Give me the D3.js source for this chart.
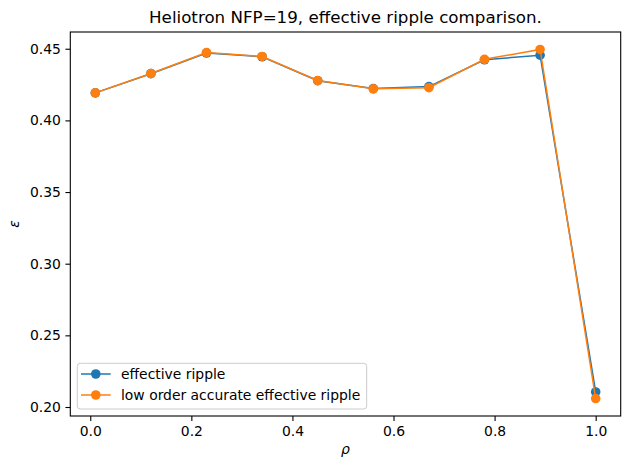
<!DOCTYPE html>
<html>
<head>
<meta charset="utf-8">
<script src="https://cdn.jsdelivr.net/npm/d3@7"></script>
<style>
  body { margin: 0; background: #fff; }
  svg text { font-family: "DejaVu Sans", sans-serif; fill: #000; }
</style>
</head>
<body>
<script>
// data
const rho = [0.01, 0.12, 0.23, 0.34, 0.45, 0.56, 0.67, 0.78, 0.89, 1.0];
const effRipple = [0.4192, 0.4326, 0.4470, 0.4444, 0.4277, 0.4222, 0.4236, 0.4423, 0.4455, 0.2105];
const lowOrderRipple = [0.4192, 0.4327, 0.4473, 0.4446, 0.4278, 0.4220, 0.4228, 0.4426, 0.4495, 0.2059];
const xTicks = [0.0, 0.2, 0.4, 0.6, 0.8, 1.0];
const yTicks = [0.20, 0.25, 0.30, 0.35, 0.40, 0.45];
const seriesNames = ['effective ripple', 'low order accurate effective ripple'];
const colors = ['#1f77b4', '#ff7f0e'];

let width = 630,
    height = 470,
    plotL = 70.3, plotR = 620.7, plotT = 32, plotB = 416,
    markerR = 4.8;

const svg = d3.select('body').append('svg')
    .attr('width', width)
    .attr('height', height);

// matplotlib style 5% margins
function padded(ext){
    const d = (ext[1] - ext[0]) * 0.05;
    return [ext[0] - d, ext[1] + d];
}

const x = d3.scaleLinear().domain(padded(d3.extent(rho))).range([plotL, plotR]);
const allY = effRipple.concat(lowOrderRipple);
const y = d3.scaleLinear().domain(padded(d3.extent(allY))).range([plotB, plotT]);

// axes
const xAxis = svg.append('g')
    .attr('transform', `translate(0,${plotB})`)
    .call(d3.axisBottom(x).tickValues(xTicks).tickFormat(d3.format('.1f')).tickSize(4.9).tickPadding(4.5).tickSizeOuter(0));
const yAxis = svg.append('g')
    .attr('transform', `translate(${plotL},0)`)
    .call(d3.axisLeft(y).tickValues(yTicks).tickFormat(d3.format('.2f')).tickSize(4.9).tickPadding(4.5).tickSizeOuter(0));

[xAxis, yAxis].forEach(g => {
    g.select('.domain').remove();
    g.selectAll('line').attr('stroke', '#000').attr('stroke-width', 1.1);
    g.selectAll('text').style('font-size', '13.9px').attr('font-family', null);
});
xAxis.selectAll('text').attr('dy', '0.75em');

// frame
svg.append('rect')
    .attr('x', plotL).attr('y', plotT)
    .attr('width', plotR - plotL).attr('height', plotB - plotT)
    .attr('fill', 'none').attr('stroke', '#000').attr('stroke-width', 1.1);

// series
const series = [effRipple, lowOrderRipple];
const line = d3.line().x((d, i) => x(rho[i])).y(d => y(d));

series.forEach((vals, k) => {
    const g = svg.append('g');
    g.append('path')
        .datum(vals)
        .attr('d', line)
        .attr('fill', 'none')
        .attr('stroke', colors[k])
        .attr('stroke-width', 1.5);
    g.selectAll('circle')
        .data(vals)
        .enter().append('circle')
        .attr('cx', (d, i) => x(rho[i]))
        .attr('cy', d => y(d))
        .attr('r', markerR)
        .attr('fill', colors[k]);
});

// title and labels
svg.append('text')
    .attr('x', (plotL + plotR) / 2).attr('y', 23)
    .attr('text-anchor', 'middle')
    .style('font-size', '16.7px')
    .text('Heliotron NFP=19, effective ripple comparison.');

svg.append('text')
    .attr('x', (plotL + plotR) / 2).attr('y', 454)
    .attr('text-anchor', 'middle')
    .style('font-size', '13.9px')
    .style('font-style', 'italic')
    .text('ρ');

svg.append('text')
    .attr('transform', `translate(19,${(plotT + plotB) / 2}) rotate(-90)`)
    .attr('text-anchor', 'middle')
    .style('font-size', '13.9px')
    .style('font-style', 'italic')
    .text('ε');

// legend
const legend = svg.append('g');
legend.append('rect')
    .attr('x', 77.3).attr('y', 363.3)
    .attr('width', 289.4).attr('height', 45.7)
    .attr('rx', 3)
    .attr('fill', '#fff').attr('fill-opacity', 0.8)
    .attr('stroke', '#cccccc').attr('stroke-width', 1);

seriesNames.forEach((name, k) => {
    const ly = 374 + k * 21;
    legend.append('line')
        .attr('x1', 81).attr('x2', 110.7)
        .attr('y1', ly).attr('y2', ly)
        .attr('stroke', colors[k]).attr('stroke-width', 1.5);
    legend.append('circle')
        .attr('cx', 95.8).attr('cy', ly).attr('r', markerR)
        .attr('fill', colors[k]);
    legend.append('text')
        .attr('x', 121).attr('y', ly)
        .attr('dy', '0.35em')
        .style('font-size', '13.9px')
        .text(name);
});
</script>
</body>
</html>
